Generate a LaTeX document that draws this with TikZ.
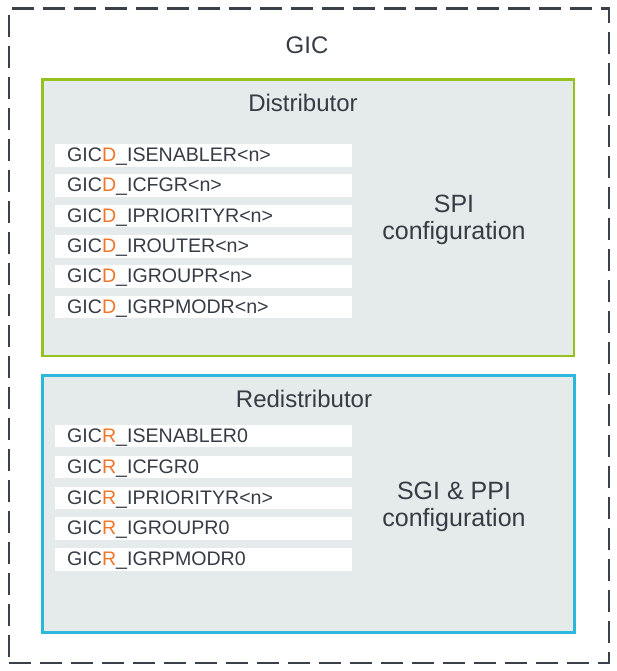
\documentclass[tikz,border=0pt]{standalone}
\usepackage{fontspec}
\setmainfont{Liberation Sans}
\definecolor{txt}{HTML}{363C45}
\definecolor{orangeD}{HTML}{F0762A}
\definecolor{panel}{HTML}{E5EAEA}
\definecolor{greenb}{HTML}{95C11F}
\definecolor{blueb}{HTML}{2BB8D9}
\definecolor{dashc}{HTML}{3A414A}
\newcommand{\regD}[1]{GIC{\color{orangeD}D}\_#1}
\newcommand{\regR}[1]{GIC{\color{orangeD}R}\_#1}
\begin{document}
\begin{tikzpicture}[x=1pt,y=-1pt,
  regbox/.style={fill=white, draw=none, anchor=north west, minimum width=297pt, minimum height=22.5pt,
    inner xsep=12pt, inner ysep=0pt, text width=273pt, align=left, text height=13pt, text depth=0pt,
    font=\fontsize{19.6}{21}\selectfont, text=txt},
  title/.style={font=\fontsize{24}{26}\selectfont, text=txt, inner sep=0pt},
  side/.style={font=\fontsize{25}{27}\selectfont, text=txt, align=center, inner sep=0pt},
  panelbox/.style={fill=panel, line width=2.5pt, anchor=north west, inner sep=0pt}
]
\useasboundingbox (0,0) rectangle (617,671);
\node[draw=dashc, line width=2.3pt, dash pattern=on 22pt off 9pt, minimum width=600pt, minimum height=654pt, anchor=north west, inner sep=0pt] (gic) at (7.5,7.5) {};
\node[title] (gictitle) at (307,45) {GIC};

\node[panelbox, draw=greenb, minimum width=531.5pt, minimum height=276pt] (dist) at (41.3,78.5) {};
\node[title] (disttitle) at (303,103) {Distributor};
\node[regbox] (d1) at (55,144) {\regD{ISENABLER\textless n\textgreater}};
\node[regbox] (d2) at (55,174) {\regD{ICFGR\textless n\textgreater}};
\node[regbox] (d3) at (55,204.5) {\regD{IPRIORITYR\textless n\textgreater}};
\node[regbox] (d4) at (55,235) {\regD{IROUTER\textless n\textgreater}};
\node[regbox] (d5) at (55,265) {\regD{IGROUPR\textless n\textgreater}};
\node[regbox] (d6) at (55,295.5) {\regD{IGRPMODR\textless n\textgreater}};
\node[side] (spi) at (454,220) {SPI\\configuration};

\node[panelbox, draw=blueb, minimum width=532pt, minimum height=257pt] (redist) at (41.3,374) {};
\node[title] (redisttitle) at (304,399) {Redistributor};
\node[regbox] (r1) at (55,424.5) {\regR{ISENABLER0}};
\node[regbox] (r2) at (55,455.5) {\regR{ICFGR0}};
\node[regbox] (r3) at (55,486.5) {\regR{IPRIORITYR\textless n\textgreater}};
\node[regbox] (r4) at (55,517) {\regR{IGROUPR0}};
\node[regbox] (r5) at (55,548) {\regR{IGRPMODR0}};
\node[side] (sgi) at (454,507) {SGI \& PPI\\configuration};
\end{tikzpicture}
\end{document}
